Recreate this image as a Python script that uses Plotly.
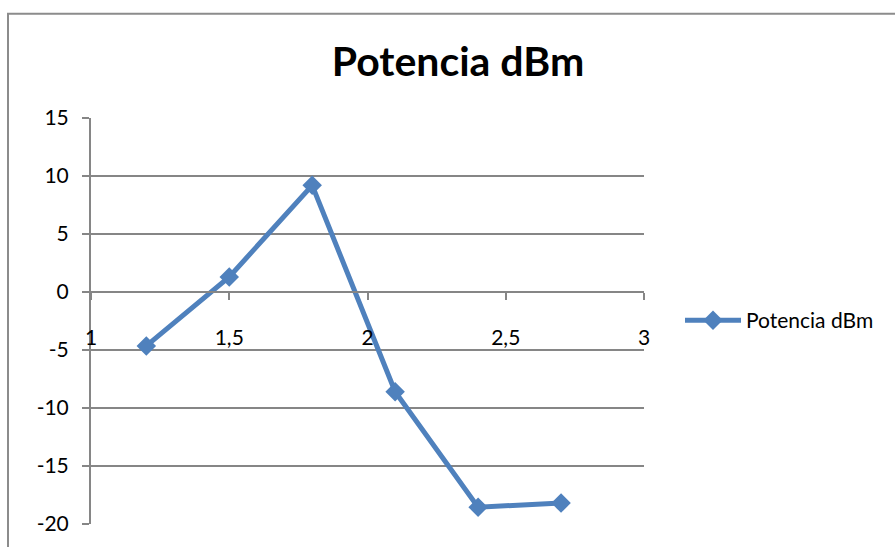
import plotly.graph_objects as go

# Measured power level per sample point
x_vals = [1.2, 1.5, 1.8, 2.1, 2.4, 2.7]
potencia_dbm = [-4.65, 1.3, 9.2, -8.6, -18.55, -18.2]

series_name = "Potencia dBm"
title_text = "Potencia dBm"

x_ticks = [1, 1.5, 2, 2.5, 3]
x_tick_labels = ["1", "1,5", "2", "2,5", "3"]
y_ticks = [-20, -15, -10, -5, 0, 5, 10, 15]
y_tick_labels = ["-20", "-15", "-10", "-5", "0", "5", "10", "15"]

BLUE = "#4F81BD"
GRAY = "#868686"
FONT = "Lato, Carlito, Calibri, sans-serif"

W, H = 895, 547
L, R, T, B = 91, 251, 118, 20
plot_w = W - L - R
plot_h = H - T - B

y_min, y_max = -20, 15

fig = go.Figure()
fig.add_trace(go.Scatter(
    x=x_vals, y=potencia_dbm, mode="lines+markers", name=series_name,
    line=dict(color=BLUE, width=5),
    marker=dict(symbol="diamond", size=15, color=BLUE),
))

# chart-area frame
fig.add_shape(type="rect", xref="paper", yref="paper",
              x0=(8 - L) / plot_w, x1=(W + 20 - L) / plot_w,
              y0=-0.3, y1=(H - B - 13) / plot_h,
              line=dict(color="#8C8C8C", width=2), fillcolor="rgba(0,0,0,0)",
              layer="below")

fig.update_layout(
    width=W, height=H,
    margin=dict(l=L, r=R, t=T, b=B),
    paper_bgcolor="white", plot_bgcolor="white",
    font=dict(family=FONT, size=21, color="black"),
    title=dict(text="<b>" + title_text + "</b>", x=(458) / W, xanchor="center",
               y=1 - 62 / H, yanchor="middle",
               font=dict(family=FONT, size=41, color="black")),
    showlegend=True,
    legend=dict(x=(680 - L) / plot_w, y=(H - B - 322) / plot_h,
                xanchor="left", yanchor="middle", itemwidth=56,
                font=dict(family=FONT, size=21, color="black"),
                bgcolor="rgba(0,0,0,0)"),
    xaxis=dict(range=[1, 3], tickvals=x_ticks, ticktext=x_tick_labels,
               anchor="free", position=(0 - y_min) / (y_max - y_min),
               showgrid=False, zeroline=False,
               showline=True, linecolor=GRAY, linewidth=2,
               ticks="outside", ticklen=7, tickcolor=GRAY, tickwidth=2,
               ticklabelstandoff=20,
               tickfont=dict(family=FONT, size=21, color="black")),
    yaxis=dict(range=[y_min, y_max], tickvals=y_ticks, ticktext=y_tick_labels,
               showgrid=True, gridcolor=GRAY, gridwidth=2, zeroline=False,
               showline=True, linecolor=GRAY, linewidth=2,
               ticks="outside", ticklen=7, tickcolor=GRAY, tickwidth=2,
               ticklabelstandoff=9,
               tickfont=dict(family=FONT, size=21, color="black")),
)

fig.write_html("out.html")
